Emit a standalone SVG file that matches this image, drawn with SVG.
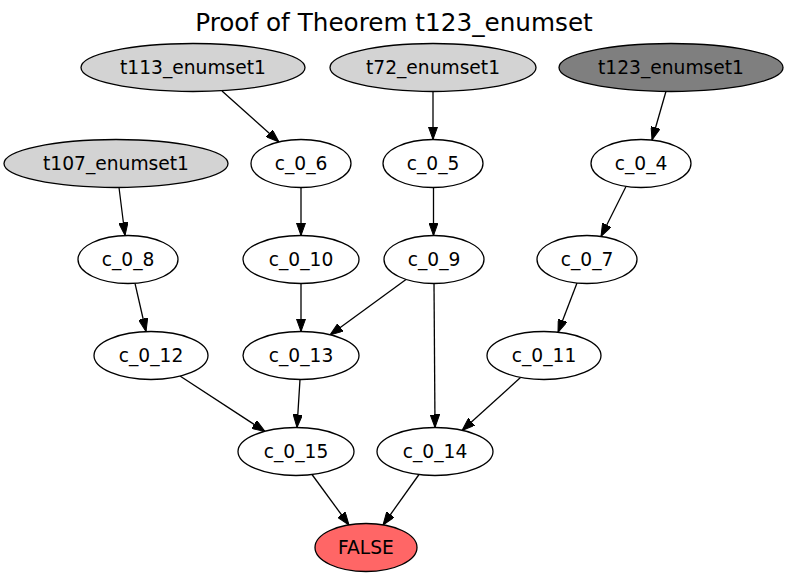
<svg xmlns="http://www.w3.org/2000/svg" width="787" height="577" viewBox="0 0 787 577">
<defs>
<style>
.n ellipse{stroke:#000;stroke-width:1.3;fill:#fff}
.n.ax ellipse{fill:#d3d3d3}
.n.goal ellipse{fill:#7f7f7f}
.n.f ellipse{fill:#ff6666}
.n text{font-family:"DejaVu Sans",sans-serif;font-size:18.67px;text-anchor:middle;fill:#000}
.e path{stroke:#000;stroke-width:1.3;fill:none;marker-end:url(#ah)}
.title{font-family:"DejaVu Sans",sans-serif;font-size:24.7px;text-anchor:middle;fill:#000}
</style>
<marker id="ah" viewBox="0 0 13 9.4" refX="13" refY="4.7" markerWidth="13" markerHeight="9.4" markerUnits="userSpaceOnUse" orient="auto">
<path d="M0,0 L13,4.7 L0,9.4 z" fill="#000" stroke="#000" stroke-width="1"/>
</marker>
</defs>
<rect width="787" height="577" fill="#fff"/>
<text class="title" x="394" y="30.5">Proof of Theorem t123_enumset</text>
<g id="edges" class="e">
<path d="M222,91 L279,142"/>
<path d="M433,91.5 L433,139.5"/>
<path d="M666,91.3 L652,140"/>
<path d="M119,187.5 L125,235.5"/>
<path d="M301,187.5 L301,235.5"/>
<path d="M433.5,187.5 L433.5,235.5"/>
<path d="M626,186.5 L601,236.5"/>
<path d="M135,283.3 L146,331.5"/>
<path d="M301,283.5 L301,331.5"/>
<path d="M406,279.5 L330,335"/>
<path d="M434,283.5 L435,427.5"/>
<path d="M577,283 L558,332.5"/>
<path d="M180,376 L265,431.5"/>
<path d="M300,379.5 L297,427.5"/>
<path d="M520.5,377.5 L462,430.5"/>
<path d="M312,474.5 L349,525"/>
<path d="M419,474.5 L383,525"/>
</g>
<g id="t113_enumset1" class="n ax"><ellipse cx="193" cy="67.5" rx="112" ry="24"/><text x="193" y="74">t113_enumset1</text></g>
<g id="t72_enumset1" class="n ax"><ellipse cx="433" cy="67.5" rx="103" ry="24"/><text x="433" y="74">t72_enumset1</text></g>
<g id="t123_enumset1" class="n goal"><ellipse cx="671" cy="67.5" rx="112" ry="24"/><text x="671" y="74">t123_enumset1</text></g>
<g id="t107_enumset1" class="n ax"><ellipse cx="116" cy="163.5" rx="112" ry="24"/><text x="116" y="170">t107_enumset1</text></g>
<g id="c_0_6" class="n"><ellipse cx="301" cy="163.5" rx="50" ry="24"/><text x="301" y="170">c_0_6</text></g>
<g id="c_0_5" class="n"><ellipse cx="433" cy="163.5" rx="50" ry="24"/><text x="433" y="170">c_0_5</text></g>
<g id="c_0_4" class="n"><ellipse cx="641" cy="163.5" rx="50" ry="24"/><text x="641" y="170">c_0_4</text></g>
<g id="c_0_8" class="n"><ellipse cx="128" cy="259.5" rx="50" ry="24"/><text x="128" y="266">c_0_8</text></g>
<g id="c_0_10" class="n"><ellipse cx="301" cy="259.5" rx="58" ry="24"/><text x="301" y="266">c_0_10</text></g>
<g id="c_0_9" class="n"><ellipse cx="434" cy="259.5" rx="50" ry="24"/><text x="434" y="266">c_0_9</text></g>
<g id="c_0_7" class="n"><ellipse cx="587" cy="259.5" rx="50" ry="24"/><text x="587" y="266">c_0_7</text></g>
<g id="c_0_12" class="n"><ellipse cx="151" cy="355.5" rx="57" ry="24"/><text x="151" y="362">c_0_12</text></g>
<g id="c_0_13" class="n"><ellipse cx="301" cy="355.5" rx="58" ry="24"/><text x="301" y="362">c_0_13</text></g>
<g id="c_0_11" class="n"><ellipse cx="544" cy="355.5" rx="57" ry="24"/><text x="544" y="362">c_0_11</text></g>
<g id="c_0_15" class="n"><ellipse cx="296" cy="451.5" rx="58" ry="24"/><text x="296" y="458">c_0_15</text></g>
<g id="c_0_14" class="n"><ellipse cx="435" cy="451.5" rx="58" ry="24"/><text x="435" y="458">c_0_14</text></g>
<g id="FALSE" class="n f"><ellipse cx="366" cy="547.5" rx="51" ry="24"/><text x="366" y="554">FALSE</text></g>
</svg>
